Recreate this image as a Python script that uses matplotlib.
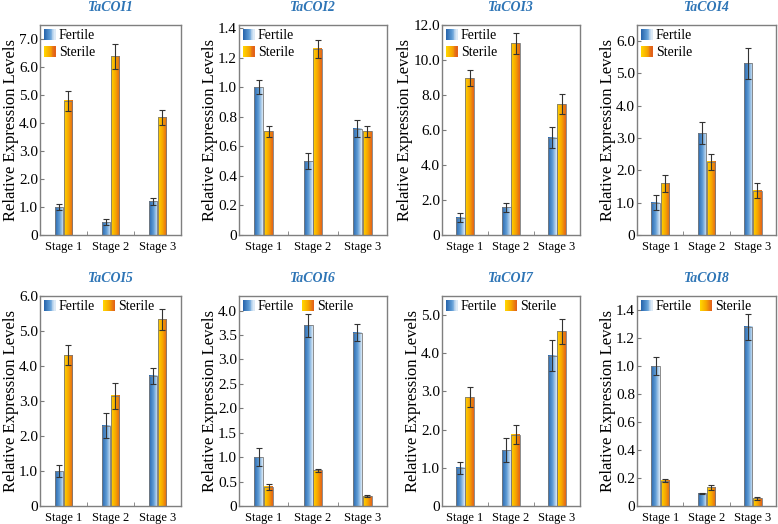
import numpy as np
import matplotlib
matplotlib.use("Agg")
import matplotlib.pyplot as plt
from matplotlib.colors import LinearSegmentedColormap
from matplotlib.patches import Rectangle
from matplotlib.legend_handler import HandlerBase
from matplotlib.ticker import MultipleLocator, FuncFormatter, FixedLocator

plt.rcParams['font.family'] = ['Liberation Serif', 'DejaVu Serif']

# data
stages = ["Stage 1", "Stage 2", "Stage 3"]
genes = ["TaCOI1", "TaCOI2", "TaCOI3", "TaCOI4", "TaCOI5", "TaCOI6", "TaCOI7", "TaCOI8"]

fertile = [
    [1.0, 0.45, 1.2],
    [1.0, 0.50, 0.72],
    [1.0, 1.58, 5.56],
    [1.0, 3.15, 5.32],
    [1.0, 2.30, 3.72],
    [1.0, 3.70, 3.55],
    [1.0, 1.46, 3.94],
    [1.0, 0.09, 1.28],
]
fertile_err = [
    [0.12, 0.11, 0.12],
    [0.045, 0.055, 0.055],
    [0.28, 0.25, 0.59],
    [0.23, 0.34, 0.48],
    [0.18, 0.36, 0.23],
    [0.18, 0.24, 0.18],
    [0.15, 0.32, 0.40],
    [0.062, 0.005, 0.095],
]
sterile = [
    [4.8, 6.38, 4.2],
    [0.70, 1.26, 0.70],
    [8.97, 10.95, 7.48],
    [1.60, 2.26, 1.37],
    [4.31, 3.15, 5.33],
    [0.39, 0.73, 0.20],
    [2.85, 1.87, 4.58],
    [0.18, 0.134, 0.055],
]
sterile_err = [
    [0.36, 0.44, 0.26],
    [0.04, 0.06, 0.04],
    [0.44, 0.58, 0.55],
    [0.26, 0.24, 0.24],
    [0.29, 0.37, 0.29],
    [0.07, 0.03, 0.02],
    [0.26, 0.24, 0.33],
    [0.012, 0.017, 0.012],
]
y_max = [7.5, 1.42, 12.0, 6.5, 6.0, 4.3, 5.5, 1.5]
y_step = [1.0, 0.2, 2.0, 1.0, 1.0, 0.5, 1.0, 0.2]

# axes rectangles in pixels (left, right) for each column, (top, bottom) for each row
W, H = 778, 524
cols = [(40, 181), (239, 387), (442, 580), (637, 776)]
rows = [(25, 235), (296, 506)]

blue_cmap = LinearSegmentedColormap.from_list("fert", ["#2a67ad", "#5d9bd5", "#dbe9f6"])
orange_cmap = LinearSegmentedColormap.from_list("ster", ["#ffd400", "#f7a800", "#e2621a"])
grad = np.linspace(0, 1, 64).reshape(1, -1)


class GradientHandler(HandlerBase):
    def __init__(self, cmap):
        super().__init__()
        self.cmap = cmap

    def create_artists(self, legend, orig_handle, xdescent, ydescent,
                       width, height, fontsize, trans):
        n = 12
        side = height * 1.15
        x0 = -xdescent + width - side
        y0 = -ydescent - (side - height) / 2
        arts = []
        for i in range(n):
            r = Rectangle((x0 + i * side / n, y0), side / n + 0.3, side,
                          facecolor=self.cmap(i / (n - 1)), edgecolor="none",
                          transform=trans)
            arts.append(r)
        return arts


def grad_bars(ax, x, vals, cmap):
    bars = ax.bar(x, vals, width=0.18, facecolor="none",
                  edgecolor="#7a7a7a", linewidth=0.6, zorder=3)
    for b in bars:
        bx, by = b.get_x(), b.get_y()
        ax.imshow(grad, cmap=cmap, aspect="auto", zorder=2,
                  extent=[bx, bx + b.get_width(), by, by + b.get_height()])
    return bars


fig = plt.figure(figsize=(W / 100, H / 100), dpi=100)
x = np.arange(1, 4)

for i, gene in enumerate(genes):
    r, c = divmod(i, 4)
    left, right = cols[c]
    top, bottom = rows[r]
    ax = fig.add_axes([left / W, 1 - bottom / H, (right - left) / W, (bottom - top) / H])

    grad_bars(ax, x - 0.1, fertile[i], blue_cmap)
    grad_bars(ax, x + 0.1, sterile[i], orange_cmap)
    ax.errorbar(x - 0.1, fertile[i], yerr=fertile_err[i], fmt="none",
                ecolor="#333333", elinewidth=0.8, capsize=2, capthick=0.8, zorder=4)
    ax.errorbar(x + 0.1, sterile[i], yerr=sterile_err[i], fmt="none",
                ecolor="#333333", elinewidth=0.8, capsize=2, capthick=0.8, zorder=4)

    ax.set_xlim(0.5, 3.5)
    ax.set_ylim(0, y_max[i])
    ax.set_xticks(x)
    ax.set_xticklabels(stages, fontsize=9)
    ax.xaxis.set_minor_locator(FixedLocator([1.5, 2.5]))
    ax.tick_params(axis="x", which="major", length=0, pad=4)
    ax.tick_params(axis="x", which="minor", direction="in", length=3, color="#7a7a7a")
    ax.yaxis.set_major_locator(MultipleLocator(y_step[i]))
    ax.yaxis.set_major_formatter(FuncFormatter(lambda v, p: "0" if abs(v) < 1e-9 else f"{v:.1f}"))
    ax.tick_params(axis="y", which="major", direction="in", length=3, color="#7a7a7a",
                   labelsize=11, pad=1.5)
    for sp in ax.spines.values():
        sp.set_color("#7f7f7f")
        sp.set_linewidth(1.0)

    ax.set_ylabel("Relative Expression Levels", fontsize=12, labelpad=0)
    ax.set_title(gene, fontsize=10, fontweight="bold", fontstyle="italic",
                 color="#2e75b6", pad=10)

    hf = Rectangle((0, 0), 1, 1)
    hs = Rectangle((0, 0), 1, 1)
    ax.legend([hf, hs], ["Fertile", "Sterile"], loc="upper left",
              ncol=1 if r == 0 else 2, frameon=False, fontsize=10,
              handlelength=0.8, handletextpad=0.25, columnspacing=0.6,
              borderaxespad=0.2, borderpad=0.1, labelspacing=0.3,
              handler_map={hf: GradientHandler(blue_cmap), hs: GradientHandler(orange_cmap)})

fig.savefig("out.png", dpi=100)
